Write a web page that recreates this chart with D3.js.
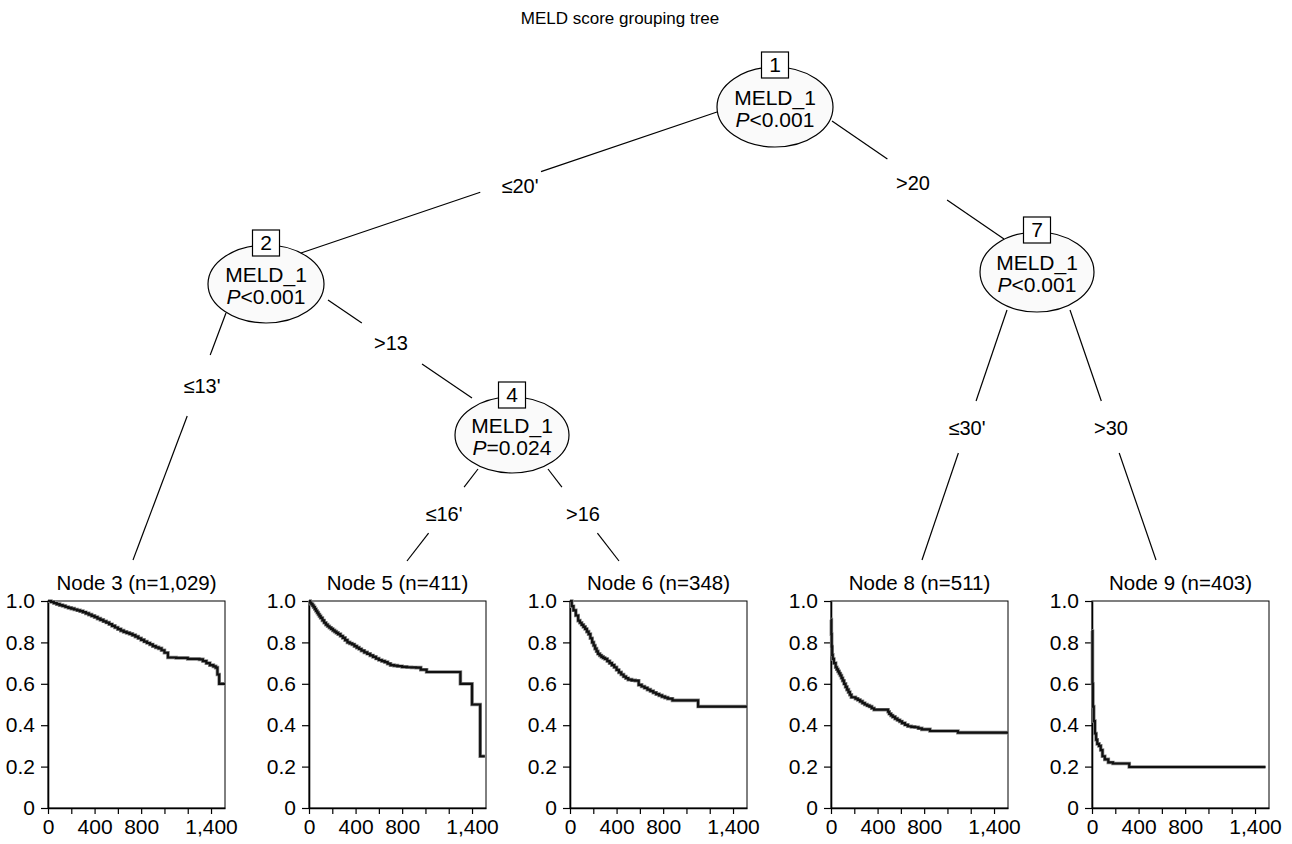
<!DOCTYPE html>
<html>
<head>
<meta charset="utf-8">
<script src="https://cdn.jsdelivr.net/npm/d3@7"></script>
<style>
  body { margin: 0; background: #fff; }
  text { font-family: "Liberation Sans", Arial, sans-serif; fill: #000; }
</style>
</head>
<body>
<div id="chart"></div>
<script>
// inner (split) nodes
var innerIds = [1, 2, 4, 7];
var innerVar = ["MELD_1", "MELD_1", "MELD_1", "MELD_1"];
var innerP = ["<0.001", "<0.001", "=0.024", "<0.001"];

// edges and their split labels
var edgeFrom = [1, 1, 2, 2, 4, 4, 7, 7];
var edgeTo = [2, 7, 3, 4, 5, 6, 8, 9];
var edgeLabels = ["\u226420'", ">20", "\u226413'", ">13", "\u226416'", ">16", "\u226430'", ">30"];

// terminal nodes
var leafIds = [3, 5, 6, 8, 9];
var leafN = ["1,029", "411", "348", "511", "403"];

// Kaplan-Meier curves (days, survival)
var km3Time = [0, 25, 50, 75, 100, 125, 150, 175, 200, 225, 250, 275, 300, 325, 350, 375, 400, 425, 450, 475, 500, 525, 550, 575, 600, 625, 650, 675, 700, 725, 750, 775, 800, 825, 850, 875, 900, 925, 950, 975, 1000, 1030, 1100, 1200, 1300, 1330, 1360, 1390, 1420, 1440, 1455, 1470, 1520];
var km3Surv = [1.0, .996, .99, .985, .98, .976, .971, .967, .963, .959, .955, .951, .946, .94, .934, .928, .922, .915, .909, .902, .896, .888, .88, .872, .864, .857, .851, .846, .841, .835, .828, .82, .812, .804, .797, .79, .782, .776, .771, .762, .75, .727, .725, .72, .718, .71, .70, .69, .684, .678, .645, .60, .60];

var km5Time = [0, 10, 20, 30, 40, 50, 60, 70, 80, 90, 100, 115, 130, 145, 160, 175, 190, 205, 220, 235, 250, 270, 290, 310, 330, 350, 370, 390, 410, 430, 450, 475, 500, 525, 550, 575, 600, 625, 650, 675, 700, 730, 760, 800, 840, 880, 920, 960, 1010, 1300, 1400, 1470, 1510];
var km5Surv = [1.0, .992, .985, .978, .97, .961, .952, .944, .935, .927, .918, .906, .895, .886, .878, .871, .865, .858, .852, .846, .84, .831, .822, .811, .80, .795, .79, .782, .775, .768, .76, .752, .745, .737, .73, .722, .715, .71, .705, .697, .69, .688, .685, .682, .68, .679, .678, .668, .657, .60, .50, .25, .25];

var km6Time = [0, 15, 30, 50, 70, 85, 100, 115, 130, 145, 160, 175, 190, 203, 215, 228, 240, 255, 270, 285, 300, 320, 340, 360, 380, 400, 420, 440, 460, 480, 500, 530, 560, 590, 615, 640, 665, 690, 715, 740, 765, 790, 815, 840, 880, 1100, 1520];
var km6Surv = [1.0, .975, .955, .93, .905, .895, .885, .875, .865, .852, .84, .82, .80, .785, .77, .757, .745, .737, .73, .725, .72, .71, .70, .69, .68, .667, .655, .645, .635, .627, .62, .617, .615, .595, .587, .58, .572, .565, .557, .55, .544, .538, .533, .528, .52, .49, .49];

var km8Time = [0, 3, 6, 10, 15, 25, 40, 50, 60, 70, 80, 90, 100, 112, 125, 137, 150, 162, 175, 210, 230, 250, 270, 290, 310, 330, 350, 370, 480, 490, 500, 515, 530, 550, 570, 590, 610, 635, 660, 690, 720, 750, 780, 850, 1090, 1520];
var km8Surv = [.91, .84, .78, .74, .72, .70, .68, .67, .66, .65, .64, .628, .615, .60, .585, .572, .56, .547, .535, .528, .522, .515, .507, .50, .495, .49, .482, .475, .475, .465, .455, .447, .44, .432, .425, .418, .41, .402, .395, .392, .39, .385, .38, .372, .364, .364];

var km9Time = [0, 4, 8, 15, 25, 35, 45, 60, 75, 90, 110, 140, 180, 320, 1490];
var km9Surv = [.855, .60, .49, .42, .36, .33, .31, .30, .28, .25, .235, .22, .215, .198, .198];

var kmTimes = [km3Time, km5Time, km6Time, km8Time, km9Time];
var kmSurvs = [km3Surv, km5Surv, km6Surv, km8Surv, km9Surv];

// axis ticks
var xTicks = [0, 200, 400, 600, 800, 1000, 1200, 1400];
var xTickLabels = {0: "0", 400: "400", 800: "800", 1400: "1,400"};
var yTicks = [0, 0.2, 0.4, 0.6, 0.8, 1.0];
var yTickLabels = ["0", "0.2", "0.4", "0.6", "0.8", "1.0"];

var title = "MELD score grouping tree";

// ---- layout ----
var width = 1292, height = 844;
var nodePos = {
  1: {x: 775, y: 107, rx: 58, ry: 40},
  2: {x: 266, y: 284, rx: 58, ry: 39},
  4: {x: 512, y: 435, rx: 57, ry: 38},
  7: {x: 1037, y: 272, rx: 57, ry: 40}
};
// edge end points and gap (fraction along the line) around the label
var edgeGeom = [
  {x1: 717, y1: 112, x2: 298, y2: 254, t0: 0.42, t1: 0.565, lx: 520, ly: 186},
  {x1: 832, y1: 121, x2: 1004, y2: 239, t0: 0.322, t1: 0.669, lx: 913, ly: 183},
  {x1: 226, y1: 313, x2: 133, y2: 560, t0: 0.17, t1: 0.417, lx: 202, ly: 386},
  {x1: 328, y1: 300, x2: 472, y2: 398, t0: 0.235, t1: 0.653, lx: 391, ly: 343},
  {x1: 478, y1: 469, x2: 407, y2: 561, t0: 0.196, t1: 0.696, lx: 444, ly: 514},
  {x1: 548, y1: 469, x2: 619, y2: 561, t0: 0.196, t1: 0.696, lx: 583, ly: 514},
  {x1: 1007, y1: 310, x2: 922, y2: 560, t0: 0.364, t1: 0.572, lx: 967, ly: 428},
  {x1: 1070, y1: 310, x2: 1156, y2: 560, t0: 0.364, t1: 0.572, lx: 1111, ly: 428}
];
var panelLeft0 = 48, panelStep = 261, panelW = 177, panelTop = 601, panelH = 207;

var svg = d3.select("#chart").append("svg")
  .attr("width", width)
  .attr("height", height);

svg.append("text")
  .attr("x", 620).attr("y", 24)
  .attr("text-anchor", "middle")
  .style("font-size", "17px")
  .text(title);

// edges
var lerp = function(a, b, t) { return a + (b - a) * t; };
edgeGeom.forEach(function(g, i) {
  var segs = [[0, g.t0], [g.t1, 1]];
  segs.forEach(function(s) {
    svg.append("line")
      .attr("x1", lerp(g.x1, g.x2, s[0])).attr("y1", lerp(g.y1, g.y2, s[0]))
      .attr("x2", lerp(g.x1, g.x2, s[1])).attr("y2", lerp(g.y1, g.y2, s[1]))
      .attr("stroke", "#000").attr("stroke-width", 1.2);
  });
  svg.append("text")
    .attr("x", g.lx).attr("y", g.ly)
    .attr("dy", "0.36em")
    .attr("text-anchor", "middle")
    .style("font-size", "20px")
    .text(edgeLabels[i]);
});

// inner nodes
innerIds.forEach(function(id, i) {
  var p = nodePos[id];
  var g = svg.append("g");
  g.append("ellipse")
    .attr("cx", p.x).attr("cy", p.y).attr("rx", p.rx).attr("ry", p.ry)
    .attr("fill", "#fafafa").attr("stroke", "#000").attr("stroke-width", 1.2);
  g.append("rect")
    .attr("x", p.x - 13.5).attr("y", p.y - p.ry - 15)
    .attr("width", 27).attr("height", 26)
    .attr("fill", "#fff").attr("stroke", "#000").attr("stroke-width", 1.2);
  g.append("text")
    .attr("x", p.x).attr("y", p.y - p.ry + 5)
    .attr("text-anchor", "middle")
    .style("font-size", "21px")
    .text(id);
  g.append("text")
    .attr("x", p.x).attr("y", p.y - 2)
    .attr("text-anchor", "middle")
    .style("font-size", "21px")
    .text(innerVar[i]);
  var pt = g.append("text")
    .attr("x", p.x).attr("y", p.y + 20)
    .attr("text-anchor", "middle")
    .style("font-size", "21px");
  pt.append("tspan").style("font-style", "italic").text("P");
  pt.append("tspan").text(innerP[i]);
});

// terminal panels
var x = d3.scaleLinear().domain([0, 1520]).range([0, panelW]);
var y = d3.scaleLinear().domain([0, 1]).range([panelH, 0]);
var line = d3.line()
  .x(function(d) { return x(d[0]); })
  .y(function(d) { return y(d[1]); })
  .curve(d3.curveStepAfter);

leafIds.forEach(function(id, i) {
  var left = panelLeft0 + i * panelStep;
  var g = svg.append("g").attr("transform", "translate(" + left + "," + panelTop + ")");

  g.append("text")
    .attr("x", panelW / 2).attr("y", -11)
    .attr("text-anchor", "middle")
    .style("font-size", "20.5px")
    .text("Node " + id + " (n=" + leafN[i] + ")");

  g.append("rect")
    .attr("width", panelW).attr("height", panelH)
    .attr("fill", "none").attr("stroke", "#000").attr("stroke-width", 1);

  var yAxis = g.append("g")
    .call(d3.axisLeft(y).tickValues(yTicks)
      .tickFormat(function(d, j) { return yTickLabels[j]; })
      .tickSize(7).tickSizeOuter(0).tickPadding(6));
  var xAxis = g.append("g")
    .attr("transform", "translate(0," + panelH + ")")
    .call(d3.axisBottom(x).tickValues(xTicks)
      .tickFormat(function(d) { return xTickLabels[d] || ""; })
      .tickSize(6).tickSizeOuter(0).tickPadding(5));
  [yAxis, xAxis].forEach(function(a) {
    a.select(".domain").attr("stroke-width", 1.6);
    a.selectAll(".tick line").attr("stroke-width", 1.2);
    a.selectAll("text").style("font-size", "21px")
      .style("font-family", "'Liberation Sans', Arial, sans-serif");
  });

  var pts = kmTimes[i].map(function(t, j) { return [t, kmSurvs[i][j]]; });
  g.append("path")
    .datum(pts)
    .attr("d", line)
    .attr("fill", "none")
    .attr("stroke", "#888")
    .attr("stroke-width", 3.6);
  g.append("path")
    .datum(pts)
    .attr("d", line)
    .attr("fill", "none")
    .attr("stroke", "#111")
    .attr("stroke-width", 2.2);
});
</script>
</body>
</html>
